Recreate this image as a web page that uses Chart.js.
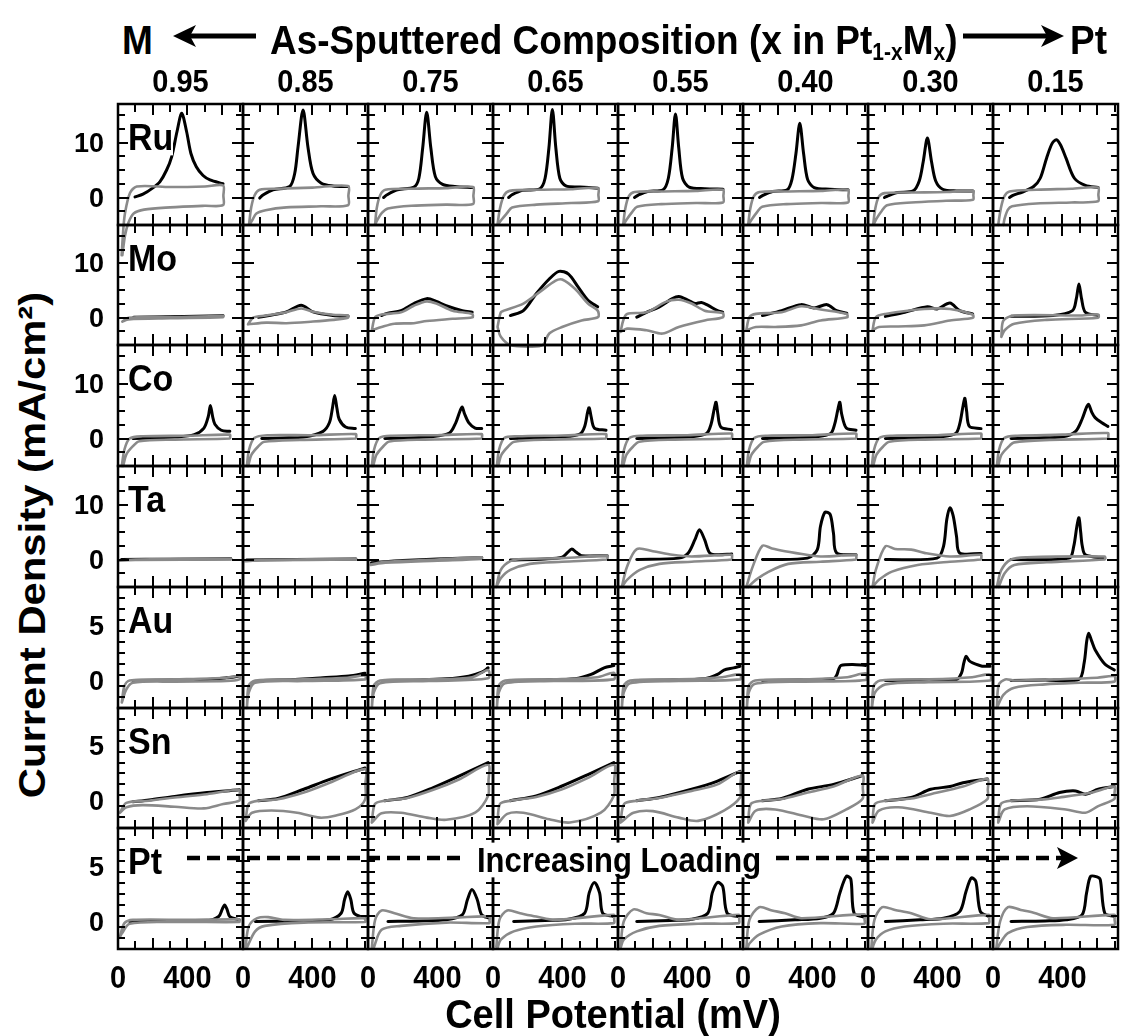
<!DOCTYPE html>
<html>
<head>
<meta charset="utf-8">
<script src="https://cdn.jsdelivr.net/npm/chart.js@4.4.0/dist/chart.umd.min.js"></script>
<style>
  body { margin: 0; background: #fff; }
  #fig { position: relative; width: 1123px; height: 1036px; overflow: hidden;
         font-family: "Liberation Sans", Arial, Helvetica, sans-serif; font-weight: bold; color: #000; }
  #fig canvas { position: absolute; }
  .lbl { position: absolute; white-space: nowrap; line-height: 1; }
  .sub { font-size: 21px; vertical-align: -5px; line-height: 0; }
  #over { position: absolute; left: 0; top: 0; pointer-events: none; }
</style>
</head>
<body>
<div id="fig"></div>
<script>
// categories
const compositions = ['0.95', '0.85', '0.75', '0.65', '0.55', '0.40', '0.30', '0.15'];
const elements = ['Ru', 'Mo', 'Co', 'Ta', 'Au', 'Sn', 'Pt'];

// axes
const xMin = 0, xMax = 720;
const xLabelTicks = [0, 400];
const yMin = [-5, -5, -5, -5, -2.5, -2.5, -2.5];
const yMax = [17, 17, 17, 17, 8.5, 8.5, 8.5];
const yLabelTicks = [[0, 10], [0, 10], [0, 10], [0, 10], [0, 5], [0, 5], [0, 5]];
const yMinorStep = [2.5, 2.5, 2.5, 2.5, 1, 1, 1];

// curves: flat lists of mV, mA/cm2 pairs, one list per composition (0.95 ... 0.15)
const ruBlack = [
  [98,0.1, 144,0.6, 203,1.8, 242,2.9, 280,5, 309,7.4, 340,12, 367,15.3, 395,12, 420,8, 451,5.6, 490,4, 530,3.2, 605,2.5],
  [96,-0.1, 115,0.45, 173,1.4, 269,2.0, 298,4.4, 317,9.2, 346,15.9, 374,9.2, 403,4.4, 451,2.6, 518,2.1, 605,2.0],
  [90,0, 110,0.5, 170,1.4, 265,1.9, 293,3.5, 315,9, 338,15.5, 362,9, 388,3.8, 430,2.4, 500,2.0, 605,1.8],
  [90,0, 110,0.5, 170,1.3, 270,1.6, 300,3.5, 322,9, 342,16, 362,9, 385,3.5, 420,2.1, 500,1.9, 605,1.7],
  [95,0, 115,0.4, 170,1.1, 260,1.4, 290,3.5, 312,9, 331,15.2, 350,9, 372,3.5, 410,1.9, 500,1.6, 605,1.5],
  [95,0, 115,0.4, 170,1.1, 255,1.4, 282,3.3, 305,8, 327,13.5, 349,8, 372,3.3, 410,1.8, 500,1.5, 605,1.4],
  [95,0, 115,0.3, 170,0.9, 260,1.2, 295,3, 318,6.5, 342,10.8, 366,6.5, 390,3, 430,1.5, 510,1.2, 605,1.2],
  [95,0, 115,0.4, 170,1.0, 234,2, 272,3.5, 309,7.2, 340,9.8, 365,10.5, 390,9.5, 420,7.2, 469,3.5, 532,2.2, 605,1.8]
];
const ruGray = [
  [21,-10.5, 30,-6, 40,-2.9, 69,0.8, 108,2.0, 300,1.9, 500,2.0, 605,2.2, 607,0.3, 605,-1.4, 500,-1.5, 300,-1.8, 150,-2.2, 90,-2.9, 60,-4.6, 40,-7, 25,-10.5],
  [35,-4.8, 48,-1.7, 67,0.4, 96,1.4, 200,1.6, 400,1.8, 605,2.1, 607,0.3, 605,-1.4, 450,-1.6, 250,-1.8, 130,-2.3, 77,-2.9, 54,-4.1, 40,-4.8],
  [41,-4.9, 50,-2, 70,0.4, 100,1.4, 250,1.6, 450,1.7, 605,1.9, 607,0.3, 605,-1.2, 450,-1.3, 250,-1.5, 115,-2.0, 80,-2.8, 55,-4.0, 41,-4.9],
  [26,-4.9, 40,-2, 62,0.3, 95,1.2, 250,1.4, 450,1.5, 605,1.7, 607,0.5, 605,-0.7, 450,-1.0, 250,-1.3, 110,-1.8, 82,-2.8, 50,-4, 30,-4.9],
  [30,-4.9, 42,-2, 62,0.2, 95,1.0, 250,1.1, 450,1.2, 605,1.4, 607,0.3, 605,-0.9, 450,-1.0, 250,-1.2, 110,-1.7, 80,-2.7, 50,-4, 33,-4.9],
  [30,-4.9, 42,-2, 62,0.2, 95,1.0, 250,1.1, 450,1.2, 605,1.4, 607,0.3, 605,-0.9, 450,-1.0, 250,-1.2, 110,-1.7, 80,-2.7, 50,-4, 33,-4.9],
  [30,-4.9, 42,-2, 62,0.1, 95,0.8, 250,0.9, 450,1.0, 605,1.2, 607,0.4, 605,-0.4, 450,-0.6, 250,-0.9, 110,-1.4, 80,-2.4, 50,-3.8, 33,-4.9],
  [30,-5, 45,-2, 65,0.2, 95,1.1, 250,1.4, 450,1.6, 605,1.8, 607,0.5, 605,-0.7, 450,-0.9, 250,-1.1, 110,-1.6, 86,-2.2, 67,-3.8, 60,-5]
];

const moBlack = [
  [90,0.1, 300,0.2, 605,0.35],
  [89,0.1, 150,0.4, 250,1.07, 335,2.3, 403,1.07, 518,0.4, 605,0.3],
  [78,0.4, 115,0.85, 190,1.3, 264,2.6, 338,3.5, 394,3, 450,2.2, 543,1.3, 600,1],
  [100,0.4, 175,1.3, 249,4.4, 324,7.1, 380,8.5, 435,8, 491,5.6, 547,3.2, 603,2],
  [108,0.1, 164,1, 238,2, 313,3.5, 350,3.9, 405,3.2, 443,2.6, 480,2.8, 517,2.3, 573,1.3, 603,1],
  [112,0.4, 223,1.3, 335,2.4, 409,1.8, 484,2.4, 539,1.3, 598,0.85],
  [100,0.25, 212,1, 342,2, 398,1.6, 472,2.7, 528,1.3, 603,0.7],
  [104,0.25, 346,0.4, 458,1.3, 480,3.5, 495,6.2, 510,3.5, 532,1, 606,0.4]
];
const moGray = [
  [25,-0.7, 60,0, 300,0.1, 605,0.3, 605,0.1, 300,-0.1, 60,-0.3, 25,-0.7],
  [29,-1.2, 58,0, 134,0.4, 250,1.0, 335,1.7, 403,1.1, 518,0.55, 605,0.4, 605,0, 518,-0.4, 403,-0.7, 250,-1.0, 134,-0.9, 29,-1.2],
  [22,-2.3, 41,0.1, 78,0.6, 190,1, 264,2.2, 338,3, 394,2.6, 487,1.3, 600,0.7, 602,0.1, 487,-0.2, 338,-0.6, 264,-1, 152,-1.1, 78,-1.7, 22,-2.3],
  [26,-1.7, 45,1, 63,1.3, 175,2.6, 268,4.7, 361,6.8, 398,7, 472,5.3, 547,2.6, 603,1.3, 605,0.1, 510,-0.5, 398,-1.7, 324,-2.9, 287,-5, 212,-5.3, 100,-5, 45,-3.5, 26,-1.7],
  [15,-2.6, 30,-0.5, 52,0.7, 164,1, 275,2.9, 350,3.3, 424,2.6, 499,1.3, 603,0.85, 605,0.1, 499,-0.5, 350,-1.7, 257,-2.9, 164,-2.3, 52,-2, 15,-2.6],
  [19,-2.3, 37,0.1, 74,0.7, 223,1, 335,2.1, 447,1.5, 598,0.7, 600,0.1, 447,-0.5, 335,-1.4, 186,-1.7, 74,-1.7, 19,-2.3],
  [26,-2.3, 45,0.1, 100,0.7, 324,1.6, 472,1.6, 603,0.6, 605,0, 472,-0.5, 324,-1.4, 175,-1.6, 63,-1.7, 26,-2.3],
  [48,-3.5, 60,-0.5, 123,0.4, 495,0.4, 606,0.6, 606,0, 309,-0.4, 123,-1.1, 67,-2.3, 48,-3.5]
];

const coBlack = [
  [86,0, 200,0.1, 327,0.25, 439,0.7, 495,1.9, 520,4, 532,6, 545,4, 558,2.6, 595,1.5, 644,1.3],
  [108,0, 230,0.1, 350,0.25, 461,1.3, 498,2.9, 515,5.5, 528,7.8, 541,5.5, 554,3.5, 591,2.1, 647,1.8],
  [97,0, 230,0.1, 360,0.3, 469,1, 506,2.9, 530,5, 543,5.7, 556,4.5, 580,2.9, 617,1.9, 655,1.8],
  [100,0, 250,0.1, 400,0.3, 500,0.8, 528,2.2, 545,4.8, 554,5.6, 565,4, 584,1.9, 651,1.5],
  [108,0, 250,0.1, 420,0.3, 510,0.9, 536,2.6, 555,5.5, 565,6.6, 575,4.5, 592,2.1, 655,1.6],
  [112,0, 250,0.1, 420,0.3, 505,0.9, 528,2.6, 548,5.5, 558,6.6, 568,4.5, 595,1.9, 651,1.5],
  [100,0, 250,0.1, 420,0.3, 505,0.9, 528,2.6, 548,6, 558,7.3, 568,5, 584,2.2, 651,1.8],
  [104,0, 250,0.1, 400,0.3, 476,1.3, 513,3.5, 540,5.8, 551,6.2, 570,4.7, 588,3.8, 625,2.9, 662,2.2]
];
const coGray = [
  [22,-5, 37,-2, 67,0, 141,0.4, 400,0.5, 644,0.7, 646,0.3, 644,0, 327,-0.2, 123,-0.5, 86,-1.4, 48,-2.9, 30,-5],
  [22,-5, 35,-2, 65,0.1, 140,0.6, 400,0.6, 650,0.8, 652,0.3, 650,0, 327,-0.25, 123,-0.6, 86,-1.5, 48,-3, 30,-5],
  [22,-5, 35,-2, 65,0.1, 140,0.5, 400,0.6, 655,0.8, 657,0.3, 655,0, 327,-0.2, 123,-0.55, 86,-1.5, 48,-3, 30,-5],
  [22,-5, 35,-2, 65,0.1, 140,0.4, 400,0.55, 651,0.8, 653,0.3, 651,0, 327,-0.2, 123,-0.6, 86,-1.5, 48,-3, 30,-5],
  [22,-5, 35,-2, 65,0.1, 140,0.5, 400,0.6, 655,0.9, 657,0.4, 655,0, 327,-0.2, 123,-0.6, 86,-1.5, 48,-3, 30,-5],
  [22,-5, 35,-2, 65,0.1, 140,0.5, 400,0.6, 651,0.9, 653,0.4, 651,0, 327,-0.2, 123,-0.6, 86,-1.5, 48,-3, 30,-5],
  [22,-5, 35,-2, 65,0.1, 140,0.5, 400,0.6, 651,0.9, 653,0.4, 651,0, 327,-0.2, 123,-0.6, 86,-1.5, 48,-3, 30,-5],
  [22,-5, 35,-2, 65,0.1, 140,0.5, 400,0.7, 662,1.0, 664,0.4, 662,0, 327,-0.25, 123,-0.7, 86,-1.6, 48,-3, 30,-5]
];

const taBlack = [
  [20,0, 300,0.05, 650,0.15],
  [20,-0.1, 300,0, 650,0.1],
  [20,-0.6, 200,-0.2, 400,0.1, 655,0.3],
  [100,-0.1, 300,0.1, 398,0.4, 430,1.3, 454,1.9, 480,1.3, 510,0.7, 658,0.7],
  [108,0, 350,0.25, 405,1.2, 443,3.6, 469,5.4, 499,3.6, 528,1.2, 573,0.85, 655,1],
  [112,0, 372,0.25, 428,1.8, 446,6, 472,8.6, 502,8.2, 521,4.8, 539,1.2, 651,0.85],
  [100,0, 398,0.25, 435,2.4, 454,7.3, 472,9.4, 491,7.9, 510,4.2, 528,1.2, 651,1.1],
  [104,0, 439,0.25, 465,2.4, 483,6, 495,7.6, 505,5, 514,2.5, 532,0.85, 644,0.25]
];
const taGray = [
  [10,-0.2, 100,0, 650,0.15, 650,0, 100,-0.1, 10,-0.2],
  [10,-0.3, 100,-0.1, 650,0.1, 650,0, 100,-0.15, 10,-0.3],
  [15,-0.9, 100,-0.4, 400,0, 655,0.4, 655,0.1, 400,-0.2, 100,-0.6, 15,-1.0],
  [19,-5, 45,-1.9, 100,-0.3, 175,0.1, 398,0.25, 658,0.7, 660,0.3, 658,0, 398,-0.4, 212,-0.8, 100,-1.9, 45,-3.4, 19,-5],
  [22,-5, 52,-1.3, 108,1.9, 201,1.5, 313,0.85, 424,0.55, 655,0.85, 657,0.4, 655,0, 424,-0.4, 238,-0.8, 126,-1.9, 52,-3.7, 22,-5],
  [19,-5, 56,-1.3, 112,2.5, 167,2, 242,1.5, 298,1.2, 446,0.55, 651,0.85, 653,0.4, 651,0, 446,-0.4, 260,-0.8, 149,-2.2, 74,-3.7, 30,-5],
  [26,-5, 45,-1.9, 100,2.4, 156,1.9, 249,1.8, 324,1.2, 472,0.55, 651,0.85, 653,0.4, 651,0, 472,-0.4, 286,-1, 138,-2.2, 63,-3.7, 26,-5],
  [22,-5, 48,-1.9, 104,0, 197,0.4, 644,0.55, 646,0.3, 644,0, 309,-0.5, 123,-1, 67,-2.5, 33,-5]
];

const auBlack = [
  [86,0, 300,0.05, 513,0.1, 625,0.25, 699,0.4],
  [89,0, 300,0.1, 461,0.25, 610,0.4, 703,0.65],
  [97,0, 300,0.05, 450,0.15, 580,0.4, 655,0.75, 692,1.15],
  [100,0, 300,0.05, 472,0.15, 565,0.55, 640,1.15, 696,1.35],
  [108,0, 300,0.05, 499,0.15, 573,0.55, 610,0.95, 666,1.15, 703,1.3],
  [112,0, 300,0.05, 521,0.15, 540,0.5, 551,1.0, 565,1.37, 632,1.46, 707,1.37],
  [100,0, 300,0.05, 510,0.1, 539,0.7, 552,1.6, 565,2.2, 583,1.8, 603,1.6, 658,1.3, 703,1.3],
  [104,0, 300,0.05, 495,0.1, 525,1.6, 540,3.6, 551,4.3, 568,3.6, 588,2.8, 644,1.5, 699,0.95]
];
const auGray = [
  [22,-2, 37,-0.5, 67,0, 327,0.1, 625,0.25, 699,0.4, 699,0.1, 625,-0.05, 327,-0.1, 86,-0.2, 48,-0.8, 22,-2],
  [22,-2.5, 33,-0.5, 70,0, 350,0.1, 600,0.25, 703,0.45, 703,0.1, 350,-0.05, 70,-0.2, 33,-1.1, 22,-2.5],
  [22,-2.5, 33,-0.5, 70,0, 350,0.1, 600,0.3, 692,0.95, 692,0.2, 350,-0.05, 70,-0.25, 33,-1.1, 22,-2.5],
  [22,-2.5, 33,-0.5, 70,0, 350,0.1, 600,0.3, 696,0.7, 696,0.1, 350,-0.05, 70,-0.25, 33,-1.1, 22,-2.5],
  [22,-2.5, 33,-0.5, 70,0, 350,0.1, 600,0.3, 703,0.55, 703,0.1, 350,-0.05, 70,-0.25, 33,-1.1, 22,-2.5],
  [22,-2.5, 33,-0.5, 70,0, 350,0.1, 600,0.3, 707,0.65, 707,0.05, 350,-0.1, 70,-0.3, 33,-1.1, 22,-2.5],
  [22,-2.5, 33,-0.5, 70,0, 350,0.1, 600,0.3, 703,0.55, 703,0, 350,-0.15, 100,-0.35, 40,-1.1, 22,-2.5],
  [22,-2.5, 33,-0.4, 70,0.1, 123,0, 350,0.1, 600,0.25, 699,0.4, 699,-0.1, 500,-0.2, 300,-0.35, 123,-0.65, 60,-1.3, 22,-2.5]
];

const snBlack = [
  [86,-0.1, 179,0.07, 327,0.4, 513,0.75, 699,1.0],
  [89,0, 201,0.2, 350,1.05, 499,1.95, 703,3.0],
  [97,0, 227,0.3, 376,1.2, 524,2.25, 692,3.5],
  [100,0, 249,0.45, 398,1.35, 547,2.4, 696,3.5],
  [108,0, 238,0.3, 424,1.05, 573,1.8, 703,2.7],
  [112,0, 223,0.2, 372,1.05, 521,1.5, 688,2.3],
  [100,0, 249,0.3, 361,1.05, 472,1.3, 547,1.65, 688,2.0],
  [104,0, 272,0.13, 383,0.75, 476,0.9, 532,0.6, 606,1.05, 699,1.3]
];
const snGray = [
  [11,-1.1, 48,-0.2, 179,0, 327,0.3, 513,0.6, 699,1.0, 700,0.5, 699,0, 606,-0.3, 495,-0.7, 327,-0.55, 141,-0.4, 48,-0.6, 11,-1.1],
  [15,-1.85, 33,-0.3, 89,0, 201,0.13, 350,0.75, 499,1.65, 703,2.9, 705,1.5, 703,0.1, 647,-0.8, 536,-1.35, 443,-1.55, 312,-1.1, 164,-0.9, 52,-1.1, 15,-1.85],
  [22,-2.0, 40,-0.3, 97,0, 227,0.25, 376,1.0, 524,1.95, 692,3.3, 694,1.8, 692,0.45, 617,-1.1, 450,-1.75, 339,-1.55, 190,-1.1, 78,-1.15, 22,-2.0],
  [26,-2.15, 40,-0.3, 100,0, 249,0.35, 398,1.05, 547,2.1, 696,3.3, 698,1.8, 696,0.45, 621,-1.1, 443,-2.0, 324,-1.7, 175,-1.1, 82,-1.2, 26,-2.15],
  [15,-2.0, 35,-0.3, 108,0, 238,0.25, 424,0.9, 573,1.5, 703,2.65, 705,1.4, 703,0.3, 610,-0.9, 461,-1.85, 350,-1.55, 201,-0.95, 89,-1.1, 15,-2.0],
  [30,-2.0, 45,-0.3, 112,0, 223,0.15, 372,0.75, 521,1.3, 688,2.3, 690,1.2, 688,0.15, 595,-0.8, 465,-1.7, 353,-1.4, 186,-0.8, 74,-0.9, 30,-2.0],
  [26,-2.0, 40,-0.3, 100,0, 249,0.2, 361,0.6, 547,1.3, 688,2.0, 690,1.0, 688,0.15, 584,-0.8, 472,-1.4, 361,-1.1, 175,-0.6, 63,-0.9, 26,-2.0],
  [30,-2.0, 45,-0.3, 104,0, 272,0.1, 383,0.3, 569,0.75, 699,1.3, 700,0.7, 699,0.15, 606,-0.5, 532,-1.1, 420,-0.8, 197,-0.5, 67,-0.8, 30,-2.0]
];

const ptBlack = [
  [67,0, 300,0.03, 513,0.05, 580,0.45, 600,1.1, 614,1.5, 628,1.1, 644,0.45, 699,0.15],
  [71,0, 300,0.05, 498,0.15, 565,0.75, 585,2.0, 603,2.7, 621,2.0, 640,0.75, 703,0.3],
  [115,0, 300,0.05, 450,0.15, 543,0.6, 573,2.0, 599,2.9, 629,2.0, 655,0.6, 699,0.3],
  [119,0, 300,0.1, 435,0.2, 528,0.75, 554,2.6, 584,3.55, 614,2.6, 632,0.75, 696,0.45],
  [108,0, 300,0.1, 424,0.2, 517,0.75, 543,2.6, 573,3.55, 603,3.2, 629,0.75, 696,0.45],
  [93,0, 300,0.15, 446,0.3, 521,0.75, 558,2.6, 595,4.1, 621,3.85, 640,0.75, 699,0.4],
  [100,0, 300,0.15, 435,0.3, 528,0.9, 565,2.75, 595,3.95, 621,3.65, 647,0.9, 696,0.45],
  [104,0, 300,0.05, 420,0.15, 513,0.6, 539,2.6, 562,4.1, 599,4.05, 618,3.8, 644,0.75, 699,0.45]
];
const ptGray = [
  [11,-1.4, 37,-0.15, 86,0.15, 400,0.15, 699,0.2, 700,0.05, 699,-0.05, 327,-0.05, 67,-0.2, 22,-1.1, 11,-1.4],
  [15,-2.3, 33,-0.45, 82,0.3, 145,0.4, 238,0.15, 500,0.2, 703,0.3, 705,0.1, 703,-0.05, 350,-0.1, 126,-0.4, 70,-0.9, 22,-2.4],
  [22,-2.4, 41,0.15, 78,1.0, 153,0.75, 264,0.3, 500,0.35, 699,0.45, 700,0.1, 699,-0.15, 450,-0.1, 190,-0.4, 78,-0.75, 33,-2.4],
  [19,-2.3, 37,0.15, 82,1.0, 156,0.75, 249,0.45, 361,0.15, 696,0.6, 698,0.2, 696,-0.15, 472,-0.2, 249,-0.45, 119,-0.9, 45,-1.65, 26,-2.4],
  [15,-2.4, 33,0, 89,1.1, 164,0.75, 238,0.6, 350,0.15, 696,0.6, 698,0.2, 696,-0.15, 461,-0.2, 238,-0.4, 108,-0.9, 33,-1.65, 15,-2.4],
  [19,-2.4, 37,0.15, 93,1.3, 167,1.0, 242,0.75, 335,0.3, 699,0.65, 700,0.2, 699,-0.2, 446,-0.15, 223,-0.45, 93,-1.2, 37,-2.0, 26,-2.4],
  [19,-2.4, 37,0.15, 82,1.3, 156,1.05, 249,0.75, 361,0.2, 696,0.6, 698,0.2, 696,-0.15, 435,-0.2, 212,-0.45, 100,-0.9, 45,-1.65, 26,-2.4],
  [19,-2.4, 41,0, 86,1.3, 160,1.05, 234,0.8, 346,0.3, 699,0.6, 700,0.2, 699,-0.3, 420,-0.3, 197,-0.5, 86,-1.05, 48,-1.8, 26,-2.4]
];

const blackRows = [ruBlack, moBlack, coBlack, taBlack, auBlack, snBlack, ptBlack];
const grayRows = [ruGray, moGray, coGray, taGray, auGray, snGray, ptGray];

// layout
const fig = document.getElementById('fig');
const gridLeft = 118, panelW = 125, gridTop = 104, gridH = 845, pad = 40;

function rowTop(r) { return Math.round(gridTop + r * gridH / 7); }

function toPoints(list) {
  const pts = [];
  for (let i = 0; i < list.length; i += 2) pts.push({ x: list[i], y: list[i + 1] });
  return pts;
}

// text centred (vertically) on y; align = left | center | right
function addText(html, x, y, size, align, extra) {
  const d = document.createElement('div');
  d.className = 'lbl';
  d.innerHTML = html;
  d.style.fontSize = size + 'px';
  d.style.left = x + 'px';
  d.style.top = y + 'px';
  const tx = align === 'right' ? '-100%' : align === 'left' ? '0' : '-50%';
  d.style.transform = 'translate(' + tx + ', -50%)' + (extra || '');
  if (align === 'left') d.style.transformOrigin = '0 50%';
  fig.appendChild(d);
  return d;
}

function drawFrame(chart, r) {
  const ctx = chart.ctx, a = chart.chartArea;
  const xs = chart.scales.x, ys = chart.scales.y;
  ctx.save();
  ctx.strokeStyle = '#000';
  ctx.lineWidth = 2;
  ctx.beginPath();
  for (let v = 100; v < xMax; v += 100) {
    const px = Math.round(xs.getPixelForValue(v));
    const len = v % 200 === 0 ? 11 : 8;
    ctx.moveTo(px, a.top); ctx.lineTo(px, a.top + len);
    ctx.moveTo(px, a.bottom); ctx.lineTo(px, a.bottom - len);
  }
  const step = yMinorStep[r];
  for (let v = yMin[r] + step; v < yMax[r] - 0.01; v += step) {
    const py = Math.round(ys.getPixelForValue(v));
    const len = yLabelTicks[r].includes(v) ? 11 : 7;
    ctx.moveTo(a.left, py); ctx.lineTo(a.left + len, py);
    ctx.moveTo(a.right, py); ctx.lineTo(a.right - len, py);
  }
  ctx.stroke();
  ctx.lineWidth = 2.5;
  ctx.strokeRect(a.left, a.top, a.right - a.left, a.bottom - a.top);
  ctx.restore();
}

for (let r = 0; r < elements.length; r++) {
  const top = rowTop(r), h = rowTop(r + 1) - top;
  for (let c = 0; c < compositions.length; c++) {
    const left = gridLeft + c * panelW;
    const cv = document.createElement('canvas');
    cv.width = panelW + 2 * pad; cv.height = h + 2 * pad;
    cv.style.width = cv.width + 'px'; cv.style.height = cv.height + 'px';
    cv.style.left = (left - pad) + 'px'; cv.style.top = (top - pad) + 'px';
    fig.appendChild(cv);

    const chart = new Chart(cv, {
      type: 'line',
      data: {
        datasets: [
          { data: toPoints(grayRows[r][c]), borderColor: '#8a8a8a', borderWidth: 2.6 },
          { data: toPoints(blackRows[r][c]), borderColor: '#000', borderWidth: 3 }
        ]
      },
      options: {
        responsive: false,
        animation: false,
        events: [],
        layout: { padding: pad },
        elements: { point: { radius: 0 }, line: { tension: 0.3, fill: false, borderCapStyle: 'round', borderJoinStyle: 'round' } },
        datasets: { line: { clip: false } },
        scales: {
          x: { type: 'linear', min: xMin, max: xMax, display: false },
          y: { type: 'linear', min: yMin[r], max: yMax[r], display: false }
        },
        plugins: { legend: { display: false }, tooltip: { enabled: false } }
      },
      plugins: [{ id: 'frame', afterDatasetsDraw: ch => drawFrame(ch, r) }]
    });

    if (c === 0) {
      yLabelTicks[r].forEach(v => {
        addText(String(v), left - 14, top - pad + chart.scales.y.getPixelForValue(v), 27, 'right', ' scaleY(1.05)');
      });
      const el = addText(elements[r], left + 10, top + 33, 34, 'left', ' scaleY(1.08)');
      el.style.background = '#fff';
    }
    if (r === elements.length - 1) {
      xLabelTicks.forEach(v => {
        addText(String(v), left - pad + chart.scales.x.getPixelForValue(v), 978, 29, 'center', ' scaleY(1.05)');
      });
    }
    if (r === 0) addText(compositions[c], left + panelW / 2, 82, 29, 'center', ' scaleY(1.05)');
  }
}

// titles
addText('M', 122, 40, 37, 'left', ' scaleY(1.12)');
addText('As-Sputtered Composition (x in Pt<span class="sub">1-x</span>M<span class="sub">x</span>)', 270, 40, 37, 'left', ' scaleY(1.12)');
addText('Pt', 1070, 40, 37, 'left', ' scaleY(1.12)');
addText('Cell Potential (mV)', 613, 1014, 38, 'center', ' scaleY(1.08)');
addText('Current Density (mA/cm²)', 32, 545, 37, 'center', ' rotate(-90deg) scaleX(1.13)');
const inc = addText('Increasing Loading', 619, 860, 31, 'center', ' scaleY(1.12)');
inc.style.background = '#fff';

// arrows
const svgNS = 'http://www.w3.org/2000/svg';
const svg = document.createElementNS(svgNS, 'svg');
svg.setAttribute('id', 'over');
svg.setAttribute('width', 1123); svg.setAttribute('height', 1036);
svg.innerHTML =
  '<line x1="190" y1="36" x2="256" y2="36" stroke="#000" stroke-width="5"/>' +
  '<polygon points="173,36 196,25 190,36 196,47" fill="#000"/>' +
  '<line x1="963" y1="36" x2="1047" y2="36" stroke="#000" stroke-width="5"/>' +
  '<polygon points="1064,36 1041,25 1047,36 1041,47" fill="#000"/>' +
  '<line x1="187" y1="858" x2="466" y2="858" stroke="#000" stroke-width="4.5" stroke-dasharray="13 7"/>' +
  '<line x1="776" y1="858" x2="1062" y2="858" stroke="#000" stroke-width="4.5" stroke-dasharray="13 7"/>' +
  '<polygon points="1078,858 1057,847 1062,858 1057,869" fill="#000"/>';
fig.appendChild(svg);
</script>
</body>
</html>
